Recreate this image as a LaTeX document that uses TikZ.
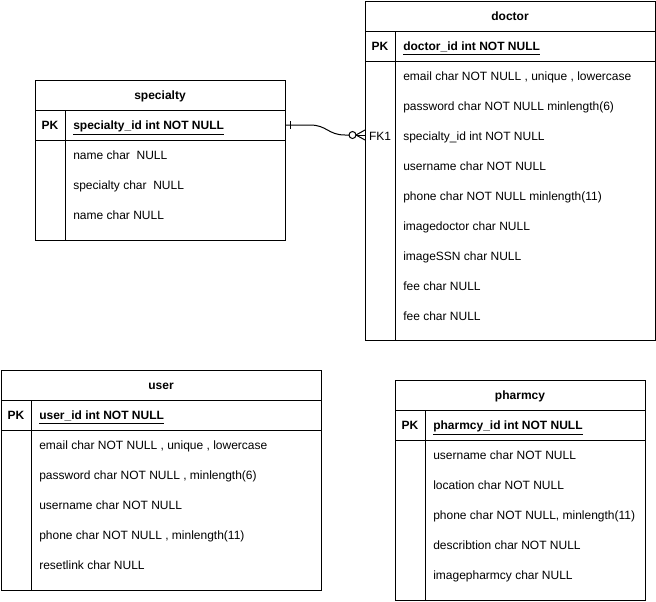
\documentclass[tikz,border=0pt]{standalone}
\usepackage{fontspec}
\setmainfont{Liberation Sans}
\usepackage{tikz}
\tikzset{
	ent/.style={line width=0.75pt},
	fld/.style={anchor=west, inner sep=0pt, text height=6.45pt, text depth=0pt, font=\fontsize{9}{11}\selectfont},
	ttl/.style={inner sep=0pt, text height=6.45pt, text depth=0pt, font=\fontsize{9}{11}\selectfont\bfseries},
	keyfld/.style={fld, font=\fontsize{9}{11}\selectfont\bfseries},
}

\begin{document}
\begin{tikzpicture}[x=0.75pt, y=-0.75pt]
			%%%%% START %%%%%
			\useasboundingbox (0,0) rectangle (656,601);
			
			% specialty
			\draw[ent] (35,80) rectangle (285,240);
			\draw[ent] (35,110) -- (285,110);
			\draw[ent] (35,140) -- (285,140);
			\draw[ent] (65,110) -- (65,240);
			\node[ttl] (spTitle) at (160,95.5) {specialty};
			\node[ttl] (spPK) at (50,125.5) {PK};
			\node[keyfld] (spId) at (73,125.5) {\underline{specialty\_id int NOT NULL}};
			\node[fld] (spName) at (73,155.5) {name char\ \ NULL};
			\node[fld] (spSpec) at (73,185.5) {specialty char\ \ NULL};
			\node[fld] (spName2) at (73,215.5) {name char NULL};
			
			% doctor
			\draw[ent] (365,1) rectangle (655,340);
			\draw[ent] (365,31) -- (655,31);
			\draw[ent] (365,61) -- (655,61);
			\draw[ent] (395,31) -- (395,340);
			\node[ttl] (drTitle) at (510,16.5) {doctor};
			\node[ttl] (drPK) at (380,46.5) {PK};
			\node[keyfld] (drId) at (403,46.5) {\underline{doctor\_id int NOT NULL}};
			\node[fld] (drEmail) at (403,76.5) {email char NOT NULL , unique , lowercase};
			\node[fld] (drPass) at (403,106.5) {password char NOT NULL minlength(6)};
			\node[fld] (drSpec) at (403,136.5) {specialty\_id int NOT NULL};
			\node[fld, anchor=center] (drFK) at (380,136.5) {FK1};
			\node[fld] (drUser) at (403,166.5) {username char NOT NULL};
			\node[fld] (drPhone) at (403,196.5) {phone char NOT NULL minlength(11)};
			\node[fld] (drImg) at (403,226.5) {imagedoctor char NULL};
			\node[fld] (drSSN) at (403,256.5) {imageSSN char NULL};
			\node[fld] (drFee) at (403,286.5) {fee char NULL};
			\node[fld] (drFee2) at (403,316.5) {fee char NULL};
			
			% user
			\draw[ent] (1,370) rectangle (321,590);
			\draw[ent] (1,400) -- (321,400);
			\draw[ent] (1,430) -- (321,430);
			\draw[ent] (31,400) -- (31,590);
			\node[ttl] (usTitle) at (161,385.5) {user};
			\node[ttl] (usPK) at (16,415.5) {PK};
			\node[keyfld] (usId) at (39,415.5) {\underline{user\_id int NOT NULL}};
			\node[fld] (usEmail) at (39,445.5) {email char NOT NULL , unique , lowercase};
			\node[fld] (usPass) at (39,475.5) {password char NOT NULL , minlength(6)};
			\node[fld] (usUser) at (39,505.5) {username char NOT NULL};
			\node[fld] (usPhone) at (39,535.5) {phone char NOT NULL , minlength(11)};
			\node[fld] (usReset) at (39,565.5) {resetlink char NULL};
			
			% pharmcy
			\draw[ent] (395,380) rectangle (645,600);
			\draw[ent] (395,410) -- (645,410);
			\draw[ent] (395,440) -- (645,440);
			\draw[ent] (425,410) -- (425,600);
			\node[ttl] (phTitle) at (520,395.5) {pharmcy};
			\node[ttl] (phPK) at (410,425.5) {PK};
			\node[keyfld] (phId) at (433,425.5) {\underline{pharmcy\_id int NOT NULL}};
			\node[fld] (phUser) at (433,455.5) {username char NOT NULL};
			\node[fld] (phLoc) at (433,485.5) {location char NOT NULL};
			\node[fld] (phPhone) at (433,515.5) {phone char NOT NULL, minlength(11)};
			\node[fld] (phDesc) at (433,545.5) {describtion char NOT NULL};
			\node[fld] (phImg) at (433,575.5) {imagepharmcy char NULL};
			
			% specialty -> doctor
			\coordinate (spRef) at (285,125);
			\coordinate (drRef) at (365,135);
			\draw[ent] (spRef) -- (310,125) .. controls (327,125) and (328,135) .. (345,135) -- (349,135);
			\draw[ent] (290,121) -- (290,129);
			\draw[ent] (352.5,135) circle[radius=3.5];
			\draw[ent] (drRef) -- (356,135);
			\draw[ent] (365,130) -- (356,135) -- (365,140);
			
			%%%%% END %%%%%
\end{tikzpicture}
\end{document}
